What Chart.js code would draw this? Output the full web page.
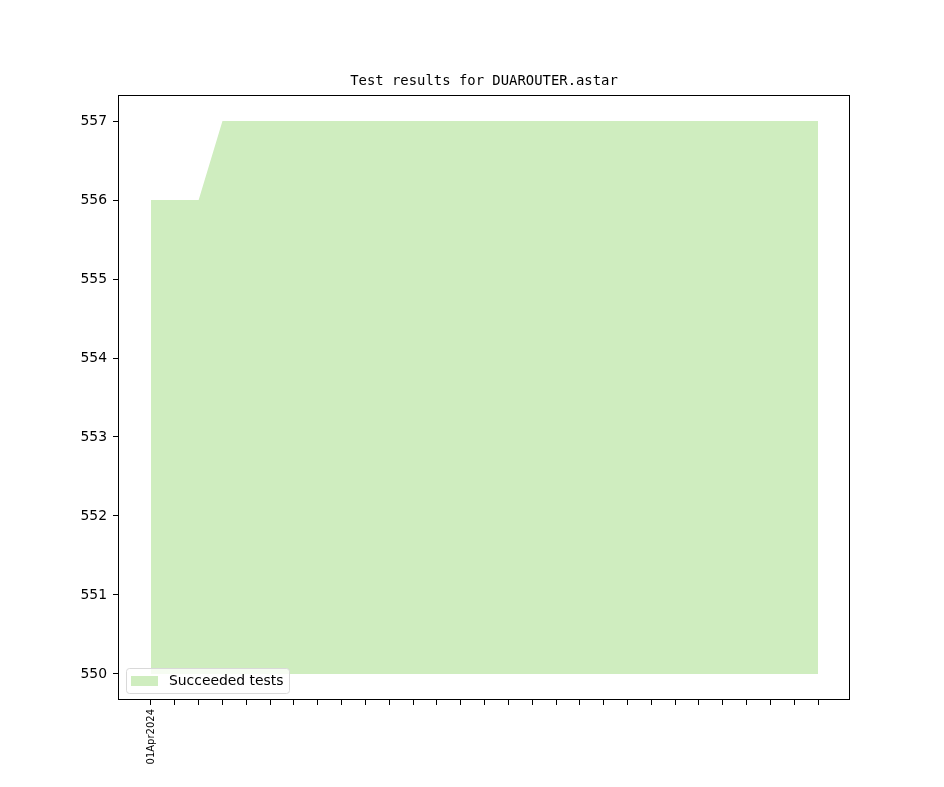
<!DOCTYPE html>
<html>
<head>
<meta charset="utf-8">
<script src="https://cdn.jsdelivr.net/npm/chart.js@4/dist/chart.umd.min.js"></script>
<style>
html,body{margin:0;padding:0;background:#fff;}
#wrap{width:944px;height:787px;}
</style>
</head>
<body>
<div id="wrap"><canvas id="testChart"></canvas></div>
<script>
const days = [
    "01Apr2024","02Apr2024","03Apr2024","04Apr2024","05Apr2024","06Apr2024","07Apr2024",
    "08Apr2024","09Apr2024","10Apr2024","11Apr2024","12Apr2024","13Apr2024","14Apr2024",
    "15Apr2024","16Apr2024","17Apr2024","18Apr2024","19Apr2024","20Apr2024","21Apr2024",
    "22Apr2024","23Apr2024","24Apr2024","25Apr2024","26Apr2024","27Apr2024","28Apr2024",
    "29Apr2024"
];
const shownLabels = ["01Apr2024"];
const succeeded = [
    556,556,556,557,557,557,557,557,557,557,557,557,557,557,557,
    557,557,557,557,557,557,557,557,557,557,557,557,557,557
];
const yTicks = [550,551,552,553,554,555,556,557];
const fillBase = 550;

const green = "rgb(207,237,191)";

const mplLook = {
    id:"mplLook",
    afterDraw(chart){
        const ctx = chart.ctx;
        const a = chart.chartArea;
        ctx.save();
        // frame
        ctx.strokeStyle = "#000";
        ctx.lineWidth = 1;
        ctx.strokeRect(a.left + 0.5, a.top + 0.5, a.right - a.left - 1, a.bottom - a.top - 1);
        // title
        ctx.fillStyle = "#000";
        ctx.font = "13.9px 'DejaVu Sans Mono'";
        ctx.textAlign = "center";
        ctx.textBaseline = "alphabetic";
        ctx.fillText("Test results for DUAROUTER.astar", (a.left + a.right) / 2, a.top - 10);
        // legend
        const lx = a.left + 8, ly = a.bottom - 32;
        ctx.fillStyle = "rgba(255,255,255,0.8)";
        ctx.strokeStyle = "#d9d9d9";
        ctx.beginPath();
        ctx.roundRect(lx + 0.5, ly + 0.5, 163, 25, 3);
        ctx.fill();
        ctx.stroke();
        ctx.fillStyle = green;
        ctx.fillRect(lx + 5, ly + 8, 27, 10);
        ctx.fillStyle = "#000";
        ctx.font = "13.9px 'DejaVu Sans'";
        ctx.textAlign = "left";
        ctx.textBaseline = "middle";
        ctx.fillText(chart.data.datasets[0].label, lx + 43, ly + 13);
        ctx.restore();
    }
};

new Chart(document.getElementById("testChart"),{
    type:"line",
    data:{
        datasets:[{
            label:"Succeeded tests",
            data:succeeded.map((v,i) => ({x:i, y:v})),
            borderWidth:0,
            borderColor:green,
            backgroundColor:green,
            pointRadius:0,
            fill:{value:fillBase},
            tension:0
        }]
    },
    options:{
        responsive:true,
        maintainAspectRatio:false,
        animation:false,
        layout:{ padding:{ top:95, right:94, bottom:0, left:0 } },
        plugins:{
            legend:{ display:false },
            tooltip:{ enabled:false }
        },
        scales:{
            x:{
                type:"linear",
                min:-1.385,
                max:29.34,
                afterBuildTicks(scale){
                    scale.ticks = days.map((d,i) => ({value:i}));
                },
                afterFit(scale){ scale.height = 87; },
                grid:{ display:true, drawOnChartArea:false, drawTicks:true, tickLength:5, color:"#000" },
                border:{ display:false },
                ticks:{
                    autoSkip:false,
                    maxRotation:90,
                    minRotation:90,
                    padding:4,
                    color:"#000",
                    font:{ family:"DejaVu Sans", size:10 },
                    callback(v){
                        const d = days[v];
                        return shownLabels.includes(d) ? d : "";
                    }
                }
            },
            y:{
                min:549.67,
                max:557.33,
                afterBuildTicks(scale){
                    scale.ticks = yTicks.map(v => ({value:v}));
                },
                afterFit(scale){ scale.width = 118; },
                grid:{ display:true, drawOnChartArea:false, drawTicks:true, tickLength:5, color:"#000" },
                border:{ display:false },
                ticks:{
                    padding:6,
                    color:"#000",
                    font:{ family:"DejaVu Sans", size:13.9 }
                }
            }
        }
    },
    plugins:[mplLook]
});
</script>
</body>
</html>
